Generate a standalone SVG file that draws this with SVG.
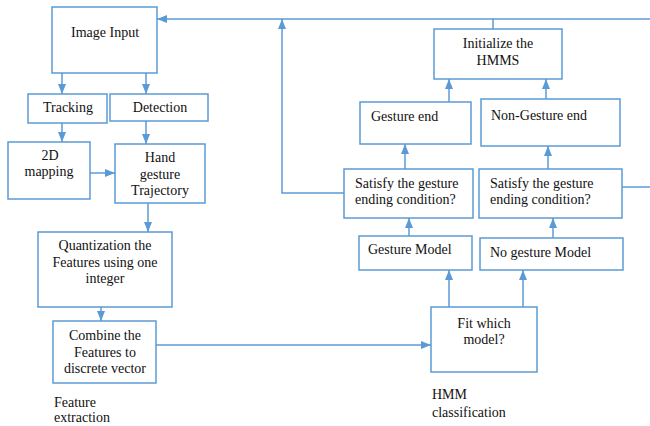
<svg xmlns="http://www.w3.org/2000/svg" width="650" height="426" viewBox="0 0 650 426" font-family="'Liberation Serif', 'DejaVu Serif', serif">
<style>
.box{fill:#fff;stroke:#5B9BD5;stroke-width:1.5}
.ln{fill:none;stroke:#5B9BD5;stroke-width:1.5}
text{font-family:'Liberation Serif','DejaVu Serif',serif;font-size:14px;fill:#111}
.c{text-anchor:middle}
</style>
<defs>
<marker id="ah" markerUnits="userSpaceOnUse" markerWidth="10" markerHeight="10" viewBox="0 0 10 10" refX="10" refY="5" orient="auto">
<path d="M0,1 L10,5 L0,9 Z" fill="#5B9BD5"/>
</marker>
</defs>
<rect width="650" height="426" fill="#fff"/>
<g id="connectors">
<path class="ln" d="M650,19 H157" marker-end="url(#ah)"/>
<path class="ln" d="M62,73 V94" marker-end="url(#ah)"/>
<path class="ln" d="M146,73 V94" marker-end="url(#ah)"/>
<path class="ln" d="M62,123 V142" marker-end="url(#ah)"/>
<path class="ln" d="M146,121 V144" marker-end="url(#ah)"/>
<path class="ln" d="M90,173 H115" marker-end="url(#ah)"/>
<path class="ln" d="M148,203 V232" marker-end="url(#ah)"/>
<path class="ln" d="M101,307 V321" marker-end="url(#ah)"/>
<path class="ln" d="M156,345 H431" marker-end="url(#ah)"/>
<path class="ln" d="M449,307 V270" marker-end="url(#ah)"/>
<path class="ln" d="M523,307 V270" marker-end="url(#ah)"/>
<path class="ln" d="M409,236 V218" marker-end="url(#ah)"/>
<path class="ln" d="M553,238 V218" marker-end="url(#ah)"/>
<path class="ln" d="M405,169 V144" marker-end="url(#ah)"/>
<path class="ln" d="M548,169 V146" marker-end="url(#ah)"/>
<path class="ln" d="M449,102 V79" marker-end="url(#ah)"/>
<path class="ln" d="M546,99 V79" marker-end="url(#ah)"/>
<path class="ln" d="M493,29 V19"/>
<path class="ln" d="M344,193 H282 V19" marker-end="url(#ah)"/>
<path class="ln" d="M622,187 H650"/>
</g>
<g id="image-input"><rect class="box" x="52" y="7" width="105" height="66"/><text class="c" x="105" y="37">Image Input</text></g>
<g id="tracking"><rect class="box" x="28" y="94" width="79" height="29"/><text class="c" x="68" y="112">Tracking</text></g>
<g id="detection"><rect class="box" x="110" y="94" width="98" height="27"/><text class="c" x="160" y="112">Detection</text></g>
<g id="mapping2d"><rect class="box" x="8" y="142" width="82" height="57"/><text class="c" x="50" y="160">2D</text><text class="c" x="49" y="176">mapping</text></g>
<g id="hand-trajectory"><rect class="box" x="115" y="144" width="90" height="59"/><text class="c" x="160" y="162">Hand</text><text class="c" x="160" y="179">gesture</text><text class="c" x="160" y="195">Trajectory</text></g>
<g id="quantization"><rect class="box" x="38" y="232" width="134" height="75"/><text class="c" x="105" y="250">Quantization the</text><text class="c" x="105" y="267">Features using one</text><text class="c" x="105" y="283">integer</text></g>
<g id="combine"><rect class="box" x="53" y="321" width="103" height="62"/><text class="c" x="105" y="340">Combine the</text><text class="c" x="105" y="357">Features to</text><text class="c" x="105" y="373">discrete vector</text></g>
<g id="feature-extraction-label"><text x="54" y="407">Feature</text><text x="54" y="422">extraction</text></g>
<g id="initialize"><rect class="box" x="434" y="29" width="128" height="50"/><text class="c" x="498" y="48">Initialize the</text><text class="c" x="498" y="65">HMMS</text></g>
<g id="gesture-end"><rect class="box" x="360" y="102" width="111" height="42"/><text x="371" y="121">Gesture end</text></g>
<g id="non-gesture-end"><rect class="box" x="481" y="99" width="139" height="47"/><text x="491" y="120">Non-Gesture end</text></g>
<g id="satisfy-left"><rect class="box" x="344" y="169" width="129" height="49"/><text x="355" y="188">Satisfy the gesture</text><text x="355" y="204">ending condition?</text></g>
<g id="satisfy-right"><rect class="box" x="479" y="169" width="143" height="49"/><text x="490" y="188">Satisfy the gesture</text><text x="490" y="204">ending condition?</text></g>
<g id="gesture-model"><rect class="box" x="359" y="236" width="113" height="34"/><text x="368" y="254">Gesture Model</text></g>
<g id="no-gesture-model"><rect class="box" x="480" y="238" width="143" height="32"/><text x="490" y="257">No gesture Model</text></g>
<g id="fit-which"><rect class="box" x="431" y="307" width="106" height="65"/><text class="c" x="484" y="328">Fit which</text><text class="c" x="484" y="344">model?</text></g>
<g id="hmm-label"><text x="432" y="399">HMM</text><text x="432" y="417">classification</text></g>
</svg>
